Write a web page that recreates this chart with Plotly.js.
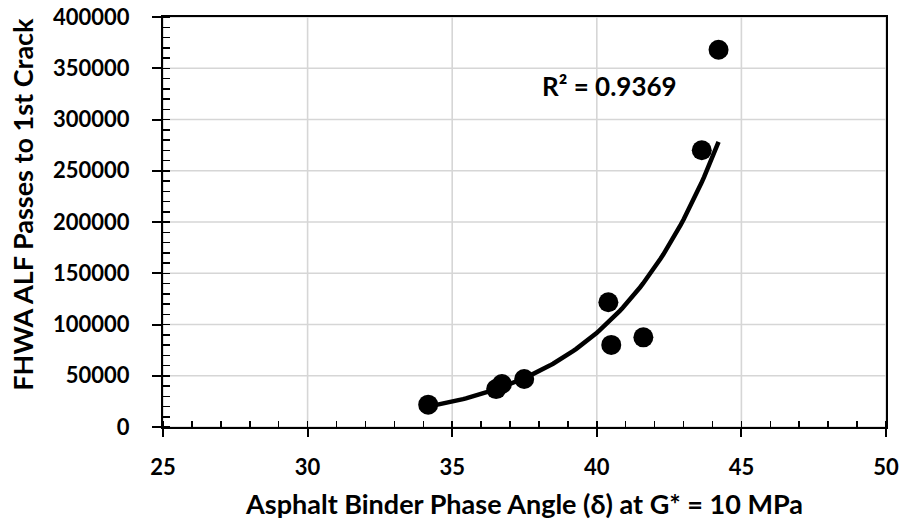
<!DOCTYPE html>
<html>
<head>
<meta charset="utf-8">
<script src="https://cdn.plot.ly/plotly-3.0.1.min.js"></script>
<style>
  html, body { margin: 0; padding: 0; background: #ffffff; }
  #chart { width: 904px; height: 531px; }
</style>
</head>
<body>
<div id="chart"></div>
<script>
// Phase angle of the binder (degrees) and ALF passes to first crack
const phaseAngle = [34.17, 36.52, 36.72, 37.49, 40.40, 40.50, 41.61, 43.63, 44.21];
const passesToCrack = [21800, 37000, 42000, 46800, 121700, 80100, 87500, 270000, 368000];
const xTickValues = [25, 30, 35, 40, 45, 50];
const yTickValues = [0, 50000, 100000, 150000, 200000, 250000, 300000, 350000, 400000];
const rSquaredLabel = 'R² = 0.9369';
const xTitle = 'Asphalt Binder Phase Angle (δ) at G* = 10 MPa';
const yTitle = 'FHWA ALF Passes to 1st Crack';

// Exponential trendline y = a·e^(b·x), least squares on ln(y)
function expFit(xs, ys) {
  const n = xs.length;
  const ly = ys.map(v => Math.log(v));
  const mx = xs.reduce((s, v) => s + v, 0) / n;
  const my = ly.reduce((s, v) => s + v, 0) / n;
  let sxy = 0, sxx = 0;
  for (let i = 0; i < n; i++) {
    sxy += (xs[i] - mx) * (ly[i] - my);
    sxx += (xs[i] - mx) * (xs[i] - mx);
  }
  const b = sxy / sxx;
  const lnA = my - b * mx;
  return x => Math.exp(lnA + b * x);
}
const fit = expFit(phaseAngle, passesToCrack);
const xMin = Math.min(...phaseAngle), xMax = Math.max(...phaseAngle);
const trendX = [], trendY = [];
for (let i = 0; i <= 100; i++) {
  const x = xMin + (xMax - xMin) * i / 100;
  trendX.push(x);
  trendY.push(fit(x));
}

const FONT = 'Lato, "Open Sans", "DejaVu Sans", sans-serif';
const W = 'bold';
const GRID = '#d6d6d6';

const traces = [
  {
    x: trendX, y: trendY, type: 'scatter', mode: 'lines',
    line: { color: '#000000', width: 4.5 },
    hoverinfo: 'skip', showlegend: false
  },
  {
    x: phaseAngle, y: passesToCrack, type: 'scatter', mode: 'markers',
    marker: { color: '#000000', size: 20 },
    showlegend: false
  }
];

// light gridlines at every major tick, kept beneath the data
const gridShapes = [
  ...xTickValues.map(v => ({
    type: 'line', layer: 'below', xref: 'x', yref: 'y domain', x0: v, x1: v, y0: 0, y1: 1,
    line: { color: GRID, width: 1.6 }
  })),
  ...yTickValues.map(v => ({
    type: 'line', layer: 'below', xref: 'x domain', yref: 'y', x0: 0, x1: 1, y0: v, y1: v,
    line: { color: GRID, width: 1.6 }
  }))
];

const layout = {
  width: 904, height: 531,
  margin: { l: 163, r: 18, t: 17, b: 104 },
  paper_bgcolor: '#ffffff', plot_bgcolor: '#ffffff',
  font: { family: FONT, color: '#000000', size: 22, weight: W },
  showlegend: false,
  xaxis: {
    range: [25, 50], tickvals: xTickValues, ticktext: xTickValues.map(String),
    showgrid: false, zeroline: false,
    showline: true, linecolor: '#000000', linewidth: 2, mirror: true,
    // major ticks outside + minor ticks inside (also at the majors) give crossing ticks
    ticks: 'outside', ticklen: 8, tickwidth: 2, tickcolor: '#000000',
    minor: { dtick: 1, tick0: 25, ticks: 'inside', ticklen: 6, tickwidth: 1.5, tickcolor: '#000000' },
    tickfont: { family: FONT, size: 22, weight: W, color: '#000000' },
    ticklabelstandoff: 12,
    title: { text: xTitle,
             font: { family: FONT, size: 27, weight: W, color: '#000000' },
             standoff: 16 },
    automargin: false
  },
  yaxis: {
    range: [0, 400000], tickvals: yTickValues, ticktext: yTickValues.map(String),
    showgrid: false, zeroline: false,
    showline: true, linecolor: '#000000', linewidth: 2, mirror: true,
    ticks: 'outside', ticklen: 9, tickwidth: 2, tickcolor: '#000000',
    minor: { dtick: 10000, tick0: 0, ticks: 'inside', ticklen: 7, tickwidth: 1.5, tickcolor: '#000000' },
    tickfont: { family: FONT, size: 22, weight: W, color: '#000000' },
    ticklabelstandoff: 18,
    automargin: false
  },
  shapes: gridShapes,
  annotations: [
    {
      xref: 'x', yref: 'y', x: 40.45, y: 332400, text: rSquaredLabel,
      showarrow: false, xanchor: 'center', yanchor: 'middle',
      font: { family: FONT, size: 26, weight: W, color: '#000000' }
    },
    {
      // vertical title, sitting a little above the middle of the axis
      xref: 'paper', yref: 'paper', x: -0.194, y: 0.544, text: yTitle, textangle: -90,
      showarrow: false, xanchor: 'center', yanchor: 'middle',
      font: { family: FONT, size: 27, weight: W, color: '#000000' }
    }
  ]
};

Plotly.newPlot('chart', traces, layout, { displayModeBar: false, staticPlot: true });
</script>
</body>
</html>
